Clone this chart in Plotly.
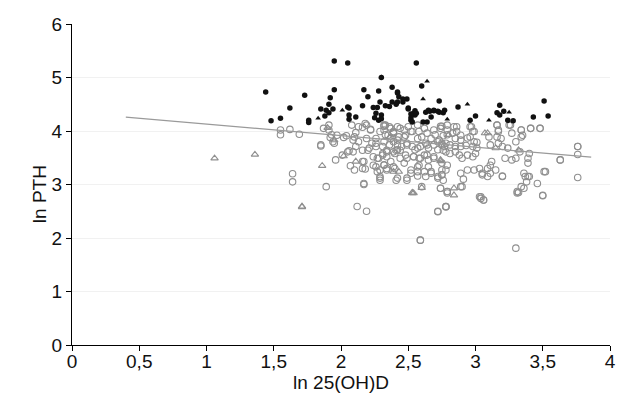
import plotly.graph_objects as go

# Filled black circles (high PTH)
hi_x = [1.44,1.48,1.55,1.62,1.73,1.76,1.76,1.85,1.89,1.94,1.88,1.91,1.91,1.92,1.95,1.95,2.05,2.06,2.06,2.06,2.11,2.16,2.17,2.20,2.28,2.29,2.38,2.42,2.38,2.56,2.46,2.60,2.73,2.50,2.54,2.55,2.52,2.53,2.63,2.66,2.69,2.73,2.76,2.67,2.87,3.00,2.96,3.18,3.16,3.18,3.21,3.24,3.28,3.43,3.51,3.54,
        2.30,2.42,2.43,2.49,2.46,2.05,2.24,2.27,2.33,2.36,2.41,2.42,2.26,2.30,2.25,2.30,2.28,2.50,2.52,2.55,2.56,2.52,2.65,2.69,2.72,2.77,2.61,2.64]
hi_y = [4.73,4.19,4.24,4.43,4.67,4.20,4.16,4.41,4.39,4.41,4.28,4.34,4.50,4.62,4.77,5.31,5.27,4.43,4.30,4.22,4.26,4.47,4.77,4.64,4.75,4.54,4.82,4.71,4.54,5.27,4.60,4.84,4.56,4.43,4.33,4.30,4.20,4.17,4.35,4.37,4.39,4.35,4.34,4.26,4.45,4.28,4.20,4.48,4.34,4.30,4.37,4.20,4.19,4.26,4.56,4.28,
        5.00,4.73,4.64,4.60,4.54,4.45,4.44,4.44,4.47,4.46,4.50,4.54,4.33,4.30,4.25,4.23,4.20,4.41,4.32,4.38,4.33,4.25,4.39,4.38,4.37,4.39,4.17,4.17]

# Small filled black triangles
hit_x = [2.30,2.64,2.61,2.01,1.83,2.79,2.94,3.10,3.25]
hit_y = [5.01,4.93,4.60,4.39,4.24,4.22,4.50,4.20,4.35]

# Open grey circles
lo_x = [2.75,2.79,2.79,2.84,2.83,2.86,2.89,2.85,2.89,2.94,2.97,2.98,2.96,2.99,3.01,2.75,2.78,2.81,2.85,2.89,2.93,2.98,3.01,2.76,2.78,2.81,2.85,2.88,2.90,2.94,2.98,3.00,
        2.75,2.79,2.78,2.75,2.76,2.89,2.94,2.99,3.03,3.05,3.09,3.11,3.12,3.11,3.15,3.09,3.05,2.91,2.89,2.79,3.03,3.04,3.06,2.78,
        3.10,3.11,3.16,3.17,3.16,3.17,3.20,3.24,3.26,3.30,3.34,3.35,3.34,3.33,3.27,3.22,3.30,3.39,3.39,3.40,3.41,3.48,3.20,3.36,3.37,3.40,3.38,3.36,3.32,3.46,3.50,3.51,3.63,3.76,3.76,3.76,
        1.96,1.89,2.07,2.10,2.17,2.12,2.19,2.01,2.05,2.09,2.17,2.18,2.24,2.27,2.29,2.34,2.41,2.49,2.52,2.57,2.63,2.67,2.72,2.75,2.74,2.79,2.78,2.72,2.59,
        2.27,2.31,2.34,2.41,2.44,2.49,2.54,2.59,2.64,2.69,2.37,2.16,2.21,2.32,2.58,2.65,
        1.64,1.64,
        1.55,1.55,1.62,1.69,1.85,1.91,1.92,1.94,2.06,2.09,2.11,2.11,2.04,2.02,2.16,2.16,2.17,2.20,2.23,2.26,2.24,2.28,2.29,2.32,2.36,2.39,2.37,2.42,2.31,2.34,2.39,2.44,2.19,2.16,2.22,2.26,2.29,2.34,2.39,2.29,2.29,2.26,1.97,
        2.33,2.32,2.35,2.39,2.42,2.43,2.47,2.48,2.50,2.53,2.57,2.58,2.60,2.62,2.64,2.67,2.69,2.70,2.73,2.74,2.76,2.32,2.36,2.39,2.42,2.45,2.49,2.53,2.55,2.59,2.63,2.65,2.69,2.72,2.75,
        2.31,2.34,2.40,2.48,2.54,2.58,2.62,2.65,2.69,2.32,2.40,2.47,2.52,2.57,2.62,2.67,2.72,2.75,2.42,2.49,2.57,2.60,2.74,2.79,2.90,
        2.86,2.96,2.99,3.16,3.17,3.19,3.25,3.27,3.34,3.41,3.48,3.76,3.63,3.52,3.39,3.34,3.20,3.31,
        2.59,3.30,2.72,2.78,3.04,3.06,3.50,3.31,
        1.91,1.87,1.93,1.85,1.95,2.08,2.13,2.18,2.22,2.10,2.13,2.19,2.26,2.32,2.37,2.33,2.39,2.44,2.47,2.52,2.57,2.42,2.49,2.57,2.64,2.72,2.77,2.79,2.74]
lo_y = [4.09,4.11,4.02,4.08,3.96,3.99,3.92,3.86,3.83,3.87,4.08,3.99,3.89,3.80,3.79,3.77,3.77,3.74,3.71,3.71,3.73,3.71,3.68,3.64,3.61,3.58,3.61,3.55,3.49,3.55,3.52,3.58,
        3.40,3.36,3.27,3.18,3.08,3.21,3.27,3.27,3.30,3.21,3.30,3.36,3.43,3.21,3.27,3.15,3.18,3.10,2.96,2.87,2.77,2.74,2.71,2.59,
        3.89,3.74,4.11,4.02,3.89,3.77,3.71,3.68,4.11,3.80,3.89,3.92,4.02,3.61,3.46,3.49,3.49,3.49,3.40,3.58,4.05,4.05,3.15,3.21,3.15,3.15,3.05,2.93,2.85,3.02,2.80,3.24,3.46,3.71,3.56,3.13,
        3.46,2.96,3.35,3.27,3.00,2.59,2.50,3.55,3.61,3.61,3.43,3.29,3.36,3.24,3.12,3.27,3.08,3.12,3.21,3.24,3.15,3.21,3.12,3.27,2.93,2.84,2.59,2.50,1.96,
        3.49,3.55,3.61,3.64,3.49,3.49,3.52,3.49,3.55,3.49,3.43,3.64,3.68,3.36,3.36,3.33,
        3.20,3.05,
        4.02,3.93,4.03,3.94,3.72,4.02,3.88,3.80,3.63,3.83,3.71,3.97,3.91,3.88,3.43,3.30,3.02,3.64,3.77,3.71,3.52,3.49,3.99,4.09,4.08,3.97,3.86,3.83,3.71,3.64,3.61,3.64,4.11,4.07,4.03,3.33,3.27,3.30,3.33,3.08,3.15,3.86,3.92,
        4.11,4.02,3.92,3.99,4.08,3.89,4.02,3.92,4.08,3.99,4.11,3.99,3.89,4.05,3.96,3.86,4.02,3.93,3.83,4.09,3.91,3.80,3.74,3.80,3.65,3.71,3.77,3.71,3.65,3.71,3.77,3.68,3.74,3.65,3.74,
        3.58,3.52,3.58,3.55,3.52,3.49,3.55,3.46,3.52,3.37,3.30,3.40,3.27,3.33,3.24,3.24,3.15,3.18,3.12,3.08,3.16,2.96,2.93,2.87,2.96,
        4.08,4.08,3.99,4.11,3.99,3.86,4.11,3.96,4.02,4.05,4.05,3.71,3.46,3.24,3.15,2.96,3.16,2.87,
        1.96,1.81,2.49,2.58,2.77,2.71,2.79,2.84,
        4.11,4.05,3.93,3.74,3.77,4.11,4.08,4.14,4.02,3.89,3.80,3.86,3.77,4.11,4.05,3.93,3.96,4.05,3.89,3.99,3.86,3.74,3.74,3.68,3.74,3.80,3.71,3.93,4.05]

# Open grey triangles
tri_x = [1.06,1.36,1.71,1.71,1.86,1.90,1.95,2.02,2.11,2.36,2.39,2.43,2.74,2.60,2.54,2.53,2.53,2.74,2.80,2.84,2.84,3.07,3.15,3.32,3.09]
tri_y = [3.49,3.56,2.59,2.58,3.35,4.06,3.83,3.53,3.43,3.88,3.24,3.24,3.44,2.94,2.84,2.85,2.84,3.46,3.93,2.93,2.80,3.96,3.68,3.64,3.96]

# Regression line
fit_x = [0.40, 3.86]
fit_y = [4.26, 3.51]

x_ticks = [0, 0.5, 1, 1.5, 2, 2.5, 3, 3.5, 4]
x_labels = ["0", "0,5", "1", "1,5", "2", "2,5", "3", "3,5", "4"]
y_ticks = [0, 1, 2, 3, 4, 5, 6]

grey = "#8f8f8f"
fig = go.Figure()
fig.add_trace(go.Scatter(x=lo_x, y=lo_y, mode="markers",
    marker=dict(symbol="circle-open", size=6.5, color=grey, line=dict(width=1.1, color=grey))))
fig.add_trace(go.Scatter(x=tri_x, y=tri_y, mode="markers",
    marker=dict(symbol="triangle-up-open", size=6.5, color=grey, line=dict(width=1.1, color=grey))))
fig.add_trace(go.Scatter(x=fit_x, y=fit_y, mode="lines", line=dict(color="#9a9a9a", width=1.3)))
fig.add_trace(go.Scatter(x=hi_x, y=hi_y, mode="markers",
    marker=dict(symbol="circle", size=5.5, color="#111111")))
fig.add_trace(go.Scatter(x=hit_x, y=hit_y, mode="markers",
    marker=dict(symbol="triangle-up", size=5, color="#111111")))

axis_font = dict(family="Liberation Sans, Arial, sans-serif", size=19, color="#111111")
fig.update_layout(
    width=617, height=405,
    margin=dict(l=72, r=7, t=24, b=60),
    paper_bgcolor="white", plot_bgcolor="white",
    showlegend=False,
    font=axis_font,
    annotations=[
        dict(text="ln 25(OH)D", xref="paper", yref="paper", x=0.5, y=0,
             xanchor="center", yanchor="middle", yshift=-37, showarrow=False, font=axis_font),
        dict(text="ln PTH", xref="paper", yref="paper", x=0, y=0.47,
             xanchor="center", yanchor="middle", xshift=-33, textangle=-90, showarrow=False, font=axis_font),
    ],
)
fig.update_xaxes(range=[0, 4], tickvals=x_ticks, ticktext=x_labels, showgrid=False, zeroline=False,
    showline=True, linecolor="black", linewidth=1.2, ticks="outside", ticklen=5, tickcolor="black",
    automargin=False, ticklabelstandoff=-6, ticklabeloverflow="allow", tickfont=axis_font)
fig.update_yaxes(range=[0, 6], tickvals=y_ticks, showgrid=True, gridcolor="#f1f1f1", gridwidth=1.2, zeroline=False,
    showline=True, linecolor="black", linewidth=1.2, ticks="outside", ticklen=5, tickcolor="black",
    automargin=False, tickfont=axis_font)

fig.write_html("out.html", config={"displayModeBar": False},
    post_script="document.body.style.margin='0';document.body.style.overflow='hidden';")
